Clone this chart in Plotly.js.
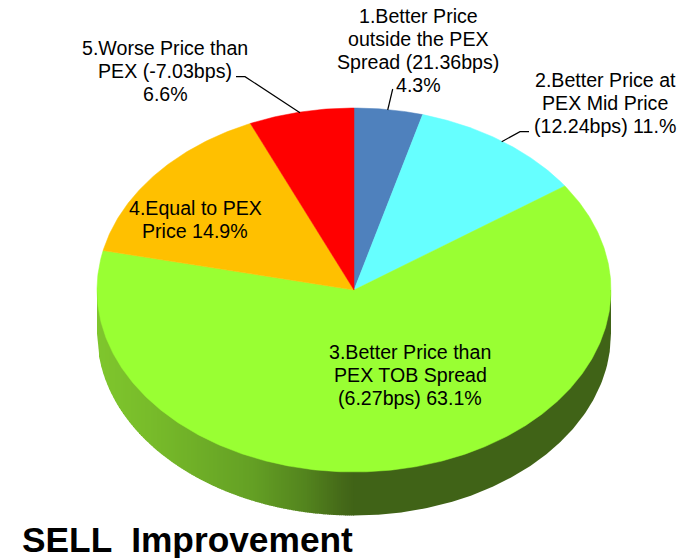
<!DOCTYPE html>
<html><head><meta charset="utf-8">
<script src="https://cdn.plot.ly/plotly-3.0.1.min.js"></script>
<style>html,body{margin:0;padding:0;background:#fff}#c{width:685px;height:558px}</style>
</head><body><div id="c"></div>
<script>
const categories = [["1.Better Price","outside the PEX","Spread (21.36bps)","4.3%"],
  ["2.Better Price at","PEX Mid Price","(12.24bps) 11.%"],
  ["3.Better Price than","PEX TOB Spread","(6.27bps) 63.1%"],
  ["4.Equal to PEX","Price 14.9%"],
  ["5.Worse Price than","PEX (-7.03bps)","6.6%"]];
const shares = [4.3, 11.0, 63.1, 14.9, 6.6];
const sliceColors = ["#4F81BD", "#66FFFF", "#99FF33", "#FFC000", "#FF0000"];
const labelX = [418, 605, 410, 195, 165];
const labelY = [50, 103, 375, 219, 71];
const leaderX = [[387.7,392.7],[501.7,520,529],null,null,[300,245,236]];
const leaderY = [[110,89],[141.7,131.7,131.7],null,null,[112.7,76.7,76.7]];
const titleText = "SELL  Improvement";
// side wall shade stops: [position across pie 0..1, colour]
const wallStops = [[0,[127,198,45]],[0.1,[120,188,42]],[0.3,[100,160,36]],[0.4,[84,134,30]],[0.48,[68,104,24]],[0.5,[64,99,23]],[1,[64,99,23]]];

const cx = 354, cy = 290, rx = 257, ry = 182, depth = 43.5, lineGap = 23;
const total = shares.reduce((a,b)=>a+b,0);
const px = t => cx + rx*Math.sin(t), py = t => cy - ry*Math.cos(t);
function shade(f){
  for(let i=1;i<wallStops.length;i++){
    if(f<=wallStops[i][0]){
      const [a,ca]=wallStops[i-1],[b,cb]=wallStops[i],k=(f-a)/(b-a);
      return "rgb("+ca.map((v,j)=>Math.round(v+(cb[j]-v)*k)).join(",")+")";
    }
  }
  return "rgb(64,99,23)";
}
const traces = [];
// rim height at a horizontal position on the lower half
const rimY = x => cy + ry*Math.sqrt(Math.max(0,1-((x-cx)/rx)**2));
// wall: shaded vertical strips for the left half
const stripW = 2;
for(let x0=cx-rx;x0<cx;x0+=stripW){
  const x1=Math.min(cx,x0+stripW+0.6), c=shade((x0+stripW/2-(cx-rx))/(2*rx));
  traces.push({type:"scatter",mode:"lines",fill:"toself",fillcolor:c,hoverinfo:"skip",
    line:{width:0},
    x:[x0,x1,x1,x0,x0],y:[cy,cy,rimY(x1)+depth,rimY(x0)+depth,cy]});
}
// wall: right half, flat dark colour
{
  const xs=[],ys=[],n=200;
  for(let k=0;k<=n;k++){const x=cx-0.3+(rx+0.3)*k/n;xs.push(x);ys.push(rimY(x)+depth);}
  xs.push(cx+rx,cx-0.3,cx-0.3);ys.push(cy,cy,rimY(cx)+depth);
  traces.push({type:"scatter",mode:"lines",fill:"toself",fillcolor:shade(1),line:{width:0},hoverinfo:"skip",x:xs,y:ys});
}
// top face slices
let acc = 0;
shares.forEach((v,i)=>{
  const x=[cx],y=[cy],s=acc/total*2*Math.PI,e=(acc+v)/total*2*Math.PI;
  const n=Math.max(8,Math.ceil((e-s)/0.01));
  for(let k=0;k<=n;k++){const t=s+(e-s)*k/n;x.push(px(t));y.push(py(t));}
  x.push(cx);y.push(cy);
  traces.push({type:"scatter",mode:"lines",fill:"toself",fillcolor:sliceColors[i],
    line:{color:sliceColors[i],width:0.5},x,y,name:categories[i].join(" "),hoverinfo:"name"});
  acc+=v;
});
leaderX.forEach((lx,i)=>{ if(lx) traces.push({type:"scatter",mode:"lines",x:lx,y:leaderY[i],
  line:{color:"#000",width:1.2},hoverinfo:"skip"}); });

const font = {family:"Liberation Sans, Arial, sans-serif",size:19.6,color:"#000"};
const annotations = [];
categories.forEach((lines,i)=>lines.forEach((t,k)=>annotations.push({text:t,x:labelX[i],
  y:labelY[i]+(k-(lines.length-1)/2)*lineGap,xref:"x",yref:"y",
  showarrow:false,xanchor:"center",yanchor:"middle",align:"center",font})));
annotations.push({text:"<b>"+titleText+"</b>",x:20,y:539,xref:"x",yref:"y",showarrow:false,
  xanchor:"left",yanchor:"middle",font:{family:"Liberation Sans, Arial, sans-serif",size:35.3,color:"#000"}});

Plotly.newPlot("c",traces,{
  width:685,height:558,margin:{l:0,r:0,t:0,b:0},showlegend:false,
  paper_bgcolor:"#fff",plot_bgcolor:"#fff",
  xaxis:{range:[0,685],visible:false,fixedrange:true},
  yaxis:{range:[558,0],visible:false,fixedrange:true},
  annotations
},{displayModeBar:false,responsive:false});
</script></body></html>
